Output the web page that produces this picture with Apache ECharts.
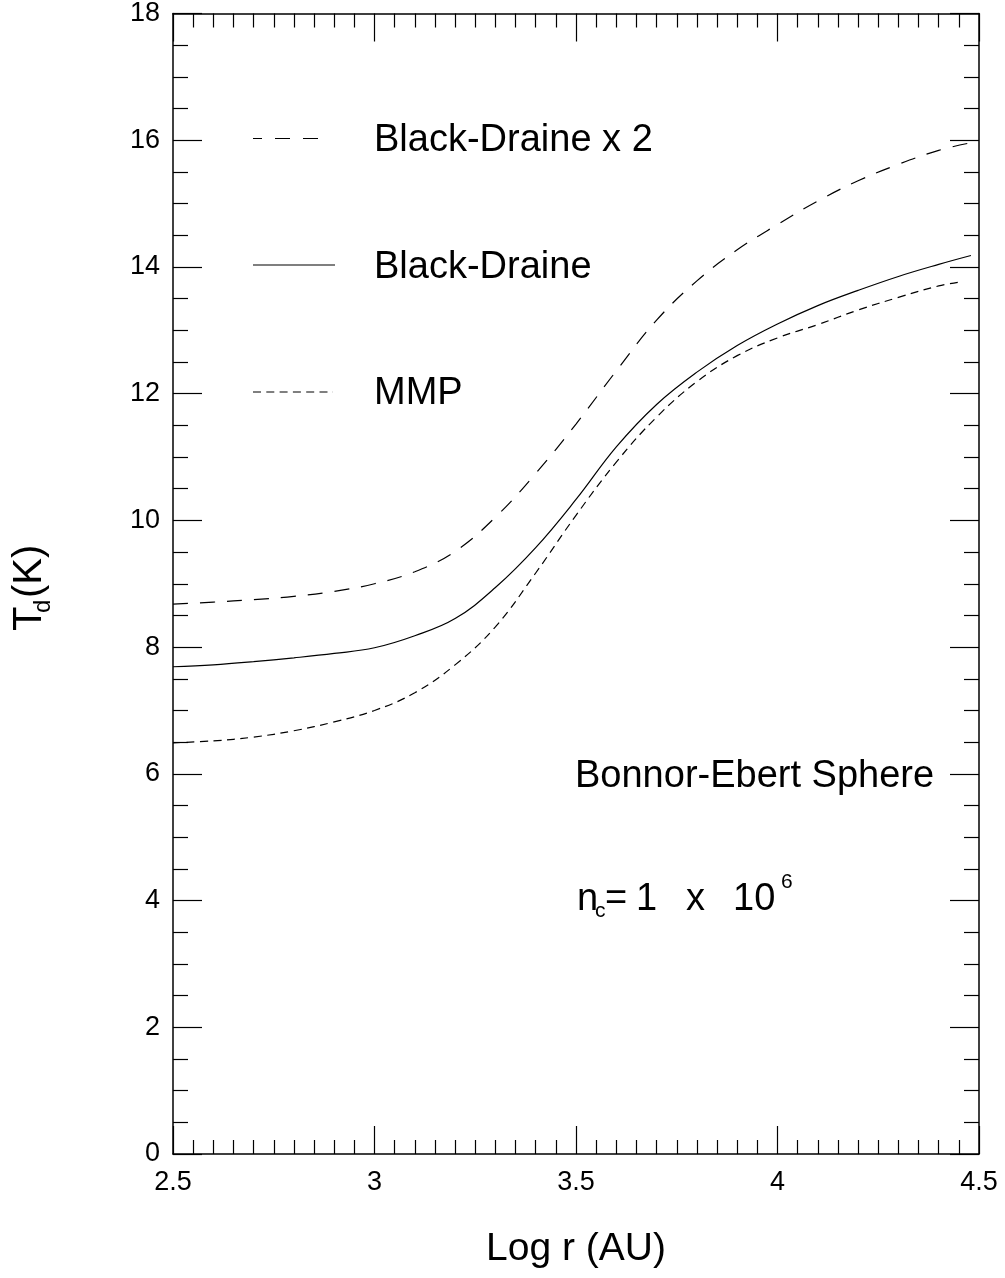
<!DOCTYPE html>
<html>
<head>
<meta charset="utf-8">
<script src="https://cdn.jsdelivr.net/npm/echarts@6/dist/echarts.min.js"></script>
<style>
html,body{margin:0;padding:0;background:#fff;}
#chart{width:1005px;height:1278px;}
</style>
</head>
<body>
<div id="chart"></div>
<script>
// ---- data ----
var logR = [2.5, 2.6, 2.7, 2.8, 2.9, 3.0, 3.1, 3.2, 3.3, 3.4, 3.5, 3.6, 3.7, 3.8, 3.9, 4.0, 4.1, 4.2, 4.3, 4.4, 4.48];
var logRMMP = [2.5, 2.6, 2.7, 2.8, 2.9, 3.0, 3.1, 3.2, 3.3, 3.4, 3.5, 3.6, 3.7, 3.8, 3.9, 4.0, 4.1, 4.2, 4.3, 4.4, 4.46];
var tdBlackDraineX2 = [8.68, 8.71, 8.75, 8.80, 8.88, 9.00, 9.19, 9.51, 10.05, 10.74, 11.52, 12.36, 13.16, 13.78, 14.27, 14.67, 15.04, 15.36, 15.62, 15.84, 15.96];
var tdBlackDraine   = [7.69, 7.72, 7.77, 7.83, 7.90, 7.99, 8.18, 8.45, 8.94, 9.57, 10.33, 11.16, 11.83, 12.34, 12.76, 13.10, 13.39, 13.63, 13.85, 14.04, 14.18];
var tdMMP           = [6.49, 6.52, 6.58, 6.68, 6.82, 7.00, 7.28, 7.72, 8.32, 9.17, 10.08, 10.92, 11.63, 12.19, 12.60, 12.88, 13.09, 13.32, 13.52, 13.70, 13.77];
var xTicks = {min: 2.5, max: 4.5, interval: 0.5};
var yTicks = {min: 0, max: 18, interval: 2};
var seriesNames = ['Black-Draine x 2', 'Black-Draine', 'MMP'];

function pairs(xs, ys) { return xs.map(function (x, i) { return [x, ys[i]]; }); }

var FONT = '"Liberation Sans", Arial, Helvetica, sans-serif';
var chart = echarts.init(document.getElementById('chart'), null, {renderer: 'canvas'});

function xAxisCfg(pos, labels) {
  return {
    type: 'value', position: pos, min: xTicks.min, max: xTicks.max, interval: xTicks.interval,
    axisLine: {show: true, onZero: false, lineStyle: {color: '#000', width: 1.5}},
    axisTick: {show: true, inside: true, length: 28, lineStyle: {color: '#000', width: 1.2}},
    minorTick: {show: true, splitNumber: 10, length: 14, lineStyle: {color: '#000', width: 1.2}},
    axisLabel: {show: labels, color: '#000', fontSize: 27, fontFamily: FONT, margin: 15},
    splitLine: {show: false}, minorSplitLine: {show: false}
  };
}
function yAxisCfg(pos, labels) {
  return {
    type: 'value', position: pos, min: yTicks.min, max: yTicks.max, interval: yTicks.interval,
    axisLine: {show: true, onZero: false, lineStyle: {color: '#000', width: 1.5}},
    axisTick: {show: true, inside: true, length: 29, lineStyle: {color: '#000', width: 1.2}},
    minorTick: {show: true, splitNumber: 4, length: 15, lineStyle: {color: '#000', width: 1.2}},
    axisLabel: {show: labels, color: '#000', fontSize: 27, fontFamily: FONT, margin: 13},
    splitLine: {show: false}, minorSplitLine: {show: false}
  };
}

var xBottom = xAxisCfg('bottom', true);
xBottom.name = 'Log r (AU)';
xBottom.nameLocation = 'middle';
xBottom.nameGap = 76;
xBottom.nameTextStyle = {color: '#000', fontSize: 39, fontFamily: FONT};

function txt(x, y, s, size, extra) {
  var o = {type: 'text', x: x, y: y, silent: true,
    style: {text: s, fill: '#000', fontSize: size, fontFamily: FONT, align: 'left', verticalAlign: 'middle'}};
  if (extra) for (var k in extra) o[k] = extra[k];
  return o;
}
function legLine(y, x1, x2, dash, offset) {
  return {type: 'line', silent: true, shape: {x1: x1, y1: y, x2: x2, y2: y},
    style: {stroke: '#000', lineWidth: 1.2, lineDash: dash, lineDashOffset: offset || 0}};
}

var option = {
  animation: false,
  backgroundColor: '#fff',
  grid: {left: 173, right: 26, top: 12, bottom: 124, containLabel: false},
  xAxis: [xBottom, xAxisCfg('top', false)],
  yAxis: [yAxisCfg('left', true), yAxisCfg('right', false)],
  series: [
    {name: seriesNames[0], type: 'line', data: pairs(logR, tdBlackDraineX2), showSymbol: false, symbol: 'none',
      smooth: 0.4,
      lineStyle: {color: '#000', width: 1.2, type: [15, 12]}},
    {name: seriesNames[1], type: 'line', data: pairs(logR, tdBlackDraine), showSymbol: false, symbol: 'none',
      smooth: 0.4,
      lineStyle: {color: '#000', width: 1.2, type: 'solid'}},
    {name: seriesNames[2], type: 'line', data: pairs(logRMMP, tdMMP), showSymbol: false, symbol: 'none',
      smooth: 0.4,
      lineStyle: {color: '#000', width: 1.2, type: [8, 5.5]}}
  ],
  graphic: [
    // legend
    legLine(138.5, 253, 321, [15, 13], 6),
    txt(374, 141, seriesNames[0], 38),
    legLine(265, 253, 335, null),
    txt(374, 267.5, seriesNames[1], 38),
    legLine(392, 253, 333, [8, 5.3]),
    txt(374, 393.5, seriesNames[2], 38),
    // annotations
    txt(575, 776.5, 'Bonnor-Ebert Sphere', 38),
    txt(577, 900, 'n', 38),
    txt(595, 911, 'c', 21),
    txt(605, 900, '=', 38),
    txt(636, 900, '1', 38),
    txt(686, 900, 'x', 38),
    txt(733, 900, '10', 38),
    txt(781, 882, '6', 21),
    // y axis title T_d(K)
    txt(29.5, 631, 'T', 40, {rotation: Math.PI / 2}),
    txt(43.5, 613, 'd', 24, {rotation: Math.PI / 2}),
    txt(29.5, 598, '(K)', 40, {rotation: Math.PI / 2})
  ]
};
chart.setOption(option);
</script>
</body>
</html>
